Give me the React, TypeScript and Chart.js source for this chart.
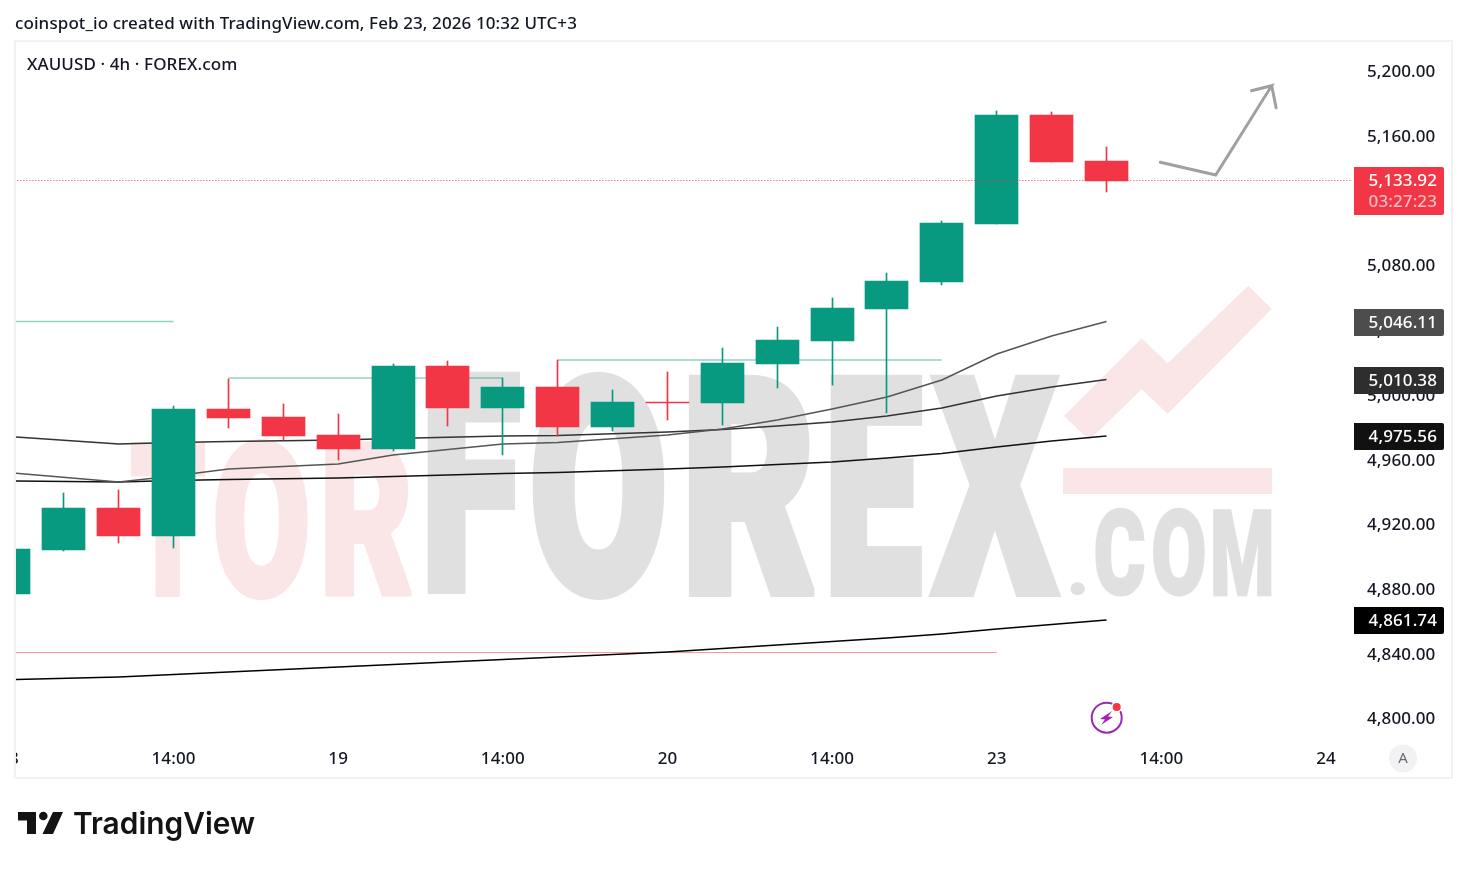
import React, { useEffect, useRef } from "react";
import { Chart, registerables } from "chart.js";

Chart.register(...registerables);

const FONT = "'Noto Sans', sans-serif";
const WEIGHT = 500;
const SPACING = "0.1px";

const titleText = "coinspot_io created with TradingView.com, Feb 23, 2026 10:32 UTC+3";
const symbolText = "XAUUSD · 4h · FOREX.com";

const candleIndex = [0, 1, 2, 3, 4, 5, 6, 7, 8, 9, 10, 11, 12, 13, 14, 15, 16, 17, 18, 19, 20];
const opens = [4876.66, 4903.86, 4929.83, 4912.52, 4991.04, 4986.09, 4974.96, 4966.31, 5017.62, 4991.65, 5004.64, 4979.91, 4995.36, 4994.74, 5018.86, 5033.08, 5052.86, 5069.55, 5105.41, 5172.8, 5144.36];
const closes = [4904.48, 4929.83, 4912.52, 4991.04, 4985.47, 4974.34, 4966.31, 5017.62, 4991.65, 5004.64, 4979.91, 4995.36, 4994.74, 5019.47, 5033.69, 5053.48, 5070.17, 5106.03, 5172.8, 5143.74, 5132.0];
const highs = [4904.48, 4939.1, 4940.96, 4992.89, 5009.58, 4994.13, 4987.94, 5018.86, 5020.71, 5010.2, 5021.33, 5002.78, 5013.91, 5028.75, 5041.73, 5059.66, 5075.12, 5107.26, 5175.27, 5174.65, 5153.01];
const lows = [4876.66, 4903.25, 4908.19, 4905.1, 4979.29, 4971.87, 4959.51, 4965.07, 4980.53, 4962.6, 4974.34, 4977.43, 4984.23, 4981.14, 5004.02, 5005.87, 4988.56, 5067.7, 5105.41, 5143.74, 5125.19];

const maIndex = [0.1, 2, 3, 4, 6, 7, 9, 10, 12, 13, 14, 15, 16, 17, 18, 19, 20];
const maA = [4951.47, 4945.9, 4949.61, 4953.94, 4957.03, 4962.6, 4969.4, 4970.32, 4974.96, 4978.67, 4984.23, 4991.04, 4998.45, 5008.96, 5025.04, 5036.17, 5045.13];
const maB = [4973.72, 4969.4, 4970.32, 4970.94, 4971.87, 4972.8, 4974.34, 4974.65, 4976.82, 4978.36, 4980.53, 4983.0, 4986.71, 4991.65, 4999.07, 5004.64, 5009.27];
const maC = [4946.52, 4945.9, 4946.83, 4947.45, 4948.38, 4949.3, 4951.16, 4951.78, 4953.94, 4955.18, 4956.72, 4958.27, 4960.74, 4963.52, 4967.54, 4971.25, 4974.34];
const maD = [4823.8, 4825.35, 4826.89, 4828.44, 4831.53, 4833.08, 4836.17, 4837.71, 4840.8, 4842.97, 4845.13, 4847.3, 4849.46, 4851.93, 4855.02, 4857.81, 4860.59];

const levelA = [{ x: 0.1, y: 5045.13 }, { x: 3, y: 5045.13 }];
const levelB = [{ x: 4, y: 5010.2 }, { x: 9, y: 5010.2 }];
const levelC = [{ x: 10, y: 5021.33 }, { x: 17, y: 5021.33 }];
const levelD = [{ x: 0.1, y: 4840.49 }, { x: 18, y: 4840.49 }];
const lastPrice = [{ x: 0.1, y: 5132.3 }, { x: 24.47, y: 5132.3 }];

const arrowX = [20.98, 21.99, 23.01, 22.62, 23.01, 23.09];
const arrowY = [5143.56, 5135.7, 5190.91, 5187.64, 5190.91, 5177.31];

const priceTicks = [4800, 4840, 4880, 4920, 4960, 5000, 5040, 5080, 5120, 5160, 5200];
const timeTickIndex = [0, 3, 6, 9, 12, 15, 18, 21, 24];
const timeTickLabels = ["18", "14:00", "19", "14:00", "20", "14:00", "23", "14:00", "24"];

const priceLabelText = "5,133.92";
const countdownText = "03:27:23";
const maLabelTexts = ["5,046.11", "5,010.38", "4,975.56", "4,861.74"];

const UP = "#089981";
const DOWN = "#F23645";

const pts = (ys: number[]) => ys.map((y, i) => ({ x: maIndex[i], y }));

const line = (data: any[], color: string, width: number, order: number, extra: any = {}) => ({
  type: "line",
  data,
  borderColor: color,
  backgroundColor: color,
  borderWidth: width,
  pointRadius: 0,
  tension: 0,
  fill: false,
  order,
  ...extra,
});

const roundBars = {
  id: "roundBars",
  afterDatasetsUpdate(chart: any) {
    chart.data.datasets.forEach((ds: any, i: number) => {
      if (ds.type !== "bar") return;
      chart.getDatasetMeta(i).data.forEach((el: any) => {
        el.x = Math.floor(el.x) + 0.5;
        el.y = Math.round(el.y);
        el.base = Math.round(el.base);
        if (Math.abs(el.y - el.base) < 1) el.base = el.y + 1;
      });
    });
  },
};

const poly = (ctx: CanvasRenderingContext2D, p: number[][], color: string) => {
  ctx.fillStyle = color;
  ctx.beginPath();
  p.forEach(([x, y], i) => (i ? ctx.lineTo(x, y) : ctx.moveTo(x, y)));
  ctx.closePath();
  ctx.fill();
};

// One heavy condensed watermark letter, fitted to its box.
const fitLetter = (
  ctx: CanvasRenderingContext2D,
  ch: string,
  x0: number,
  x1: number,
  top: number,
  bottom: number,
  extra: number,
  color: string
) => {
  ctx.save();
  ctx.font = "900 100px Roboto, sans-serif";
  ctx.textAlign = "left";
  ctx.textBaseline = "alphabetic";
  const m = ctx.measureText(ch);
  const bw = m.actualBoundingBoxLeft + m.actualBoundingBoxRight;
  const bh = m.actualBoundingBoxAscent + m.actualBoundingBoxDescent;
  const sx = (x1 - x0 - extra) / bw;
  const lw = extra / sx;
  const sy = (bottom - top) / (bh + lw);
  ctx.translate(x0 + extra / 2 + m.actualBoundingBoxLeft * sx, bottom - (lw / 2 + m.actualBoundingBoxDescent) * sy);
  ctx.scale(sx, sy);
  ctx.fillStyle = color;
  ctx.strokeStyle = color;
  ctx.lineWidth = lw;
  ctx.lineJoin = "miter";
  ctx.miterLimit = 2;
  ctx.fillText(ch, 0, 0);
  ctx.strokeText(ch, 0, 0);
  ctx.restore();
};

const watermark = {
  id: "watermark",
  beforeDraw(chart: any) {
    (chart.ctx as any).letterSpacing = SPACING;
  },
  beforeDatasetsDraw(chart: any) {
    const ctx: CanvasRenderingContext2D = chart.ctx;
    const pink = "#fae6e6";
    const gray = "#e0e0e0";
    ctx.save();
    (ctx as any).letterSpacing = "0px";
    fitLetter(ctx, "T", 130, 206, 440, 597, 4, pink);
    fitLetter(ctx, "O", 215, 308, 437, 600, 4, pink);
    fitLetter(ctx, "R", 325, 412, 440, 597, 4, pink);
    fitLetter(ctx, "F", 427, 520, 372, 597, 7, gray);
    fitLetter(ctx, "O", 532, 665, 369, 600, 7, gray);
    fitLetter(ctx, "R", 688, 815, 372, 597, 7, gray);
    fitLetter(ctx, "E", 830, 923, 372, 597, 7, gray);
    fitLetter(ctx, "X", 930, 1060, 372, 597, 6, gray);
    fitLetter(ctx, ".", 1070, 1085, 582, 595, 1, gray);
    fitLetter(ctx, "C", 1095, 1145, 507, 597, 2, gray);
    fitLetter(ctx, "O", 1153, 1205, 507, 597, 2, gray);
    fitLetter(ctx, "M", 1213, 1272, 508, 596, 1.5, gray);
    poly(ctx, [[1063, 468], [1272, 468], [1272, 494], [1063, 494]], pink);
    poly(ctx, [[1064, 416], [1141.7, 338.3], [1167.7, 363.3], [1248.3, 285.7], [1271.7, 309], [1167.7, 414], [1141.7, 389.3], [1089.3, 440]], pink);
    ctx.restore();
  },
};

const labelBox = (ctx: CanvasRenderingContext2D, y: number, h: number, color: string) => {
  ctx.fillStyle = color;
  ctx.beginPath();
  ctx.roundRect(1354, y, 90, h, [0, 2, 2, 0]);
  ctx.fill();
};

const overlay = {
  id: "overlay",
  afterDraw(chart: any) {
    const ctx: CanvasRenderingContext2D = chart.ctx;
    const yScale = chart.scales.y;
    ctx.save();
    // clip left overflow of the time axis
    ctx.fillStyle = "#ffffff";
    ctx.fillRect(0, 42, 15, 736);
    // panel frame
    ctx.strokeStyle = "#f2f2f2";
    ctx.lineWidth = 2;
    ctx.strokeRect(15, 41, 1437, 737);

    ctx.textBaseline = "middle";
    ctx.textAlign = "left";
    ctx.fillStyle = "#131722";
    ctx.font = `${WEIGHT} 17px ${FONT}`;
    ctx.fillText(titleText, 15, 24);
    ctx.fillText(symbolText, 27, 65);

    // price tags
    ctx.textAlign = "right";
    const maLast = [maA, maB, maC, maD].map((a) => a[a.length - 1]);
    const tagColors = ["#4d4d4d", "#2e2e2e", "#111111", "#000000"];
    maLast.forEach((v, i) => {
      const y = Math.round(yScale.getPixelForValue(v));
      labelBox(ctx, y - 13, 27, tagColors[i]);
      ctx.fillStyle = "#ffffff";
      ctx.fillText(maLabelTexts[i], 1437, y + 1);
    });
    const py = Math.round(yScale.getPixelForValue(lastPrice[0].y));
    labelBox(ctx, py - 14, 48, DOWN);
    ctx.fillStyle = "#ffffff";
    ctx.fillText(priceLabelText, 1437, py);
    ctx.fillStyle = "rgba(255,255,255,0.65)";
    ctx.fillText(countdownText, 1437, py + 21);

    // bolt badge
    ctx.strokeStyle = "#9c27b0";
    ctx.lineWidth = 2;
    ctx.beginPath();
    ctx.arc(1106.7, 717.7, 15, 0, Math.PI * 2);
    ctx.stroke();
    poly(ctx, [[1112, 711], [1100, 719], [1105, 719.5], [1101, 725], [1113, 717], [1108, 716.5]], "#9c27b0");
    ctx.fillStyle = "#ffffff";
    ctx.beginPath();
    ctx.arc(1116.7, 707, 5.5, 0, Math.PI * 2);
    ctx.fill();
    ctx.fillStyle = DOWN;
    ctx.beginPath();
    ctx.arc(1116.7, 707, 4, 0, Math.PI * 2);
    ctx.fill();

    // auto button
    ctx.fillStyle = "#f2f2f2";
    ctx.beginPath();
    ctx.arc(1403, 758.5, 14, 0, Math.PI * 2);
    ctx.fill();
    ctx.fillStyle = "#6a6d78";
    ctx.textAlign = "center";
    ctx.font = `15px ${FONT}`;
    ctx.fillText("A", 1403, 759);

    // logo
    poly(ctx, [[18, 812], [36, 812], [36, 834], [27, 834], [27, 820.5], [18, 820.5]], "#131313");
    ctx.fillStyle = "#131313";
    ctx.beginPath();
    ctx.arc(43.3, 816, 4.3, 0, Math.PI * 2);
    ctx.fill();
    poly(ctx, [[53, 812], [63, 812], [53, 834], [42.5, 834]], "#131313");
    ctx.textAlign = "left";
    ctx.textBaseline = "alphabetic";
    (ctx as any).letterSpacing = "0px";
    ctx.font = "600 30px Inter, sans-serif";
    ctx.fillText("TradingView", 73, 834, 182);
    ctx.restore();
  },
};

export default function App() {
  const ref = useRef<HTMLCanvasElement | null>(null);
  useEffect(() => {
    if (!ref.current) return;
    document.body.style.margin = "0";
    const colors = opens.map((o, i) => (closes[i] >= o ? UP : DOWN));
    const chart = new Chart(ref.current, {
      type: "bar",
      data: {
        datasets: [
          line(lastPrice, DOWN, 1, 0, { borderDash: [1, 2], clip: { left: 0, top: 0, bottom: 0, right: 12 } }),
          {
            type: "bar",
            data: candleIndex.map((x, i) => ({ x, y: [opens[i], closes[i]] })),
            backgroundColor: colors,
            barThickness: 43,
            grouped: false,
            order: 1,
          },
          {
            type: "bar",
            data: candleIndex.map((x, i) => ({ x, y: [lows[i], highs[i]] })),
            backgroundColor: colors,
            barThickness: 1,
            grouped: false,
            order: 2,
          },
          line(arrowX.map((x, i) => ({ x, y: arrowY[i] })), "#a0a0a0", 3, 3, { borderCapStyle: "round" }),
          line(pts(maA), "#555555", 1.5, 4),
          line(pts(maB), "#333333", 1.5, 5),
          line(pts(maC), "#111111", 1.5, 6),
          line(pts(maD), "#000000", 1.5, 7),
          line(levelA, "rgba(8,153,129,0.45)", 1.5, 8),
          line(levelB, "rgba(8,153,129,0.45)", 1.5, 8),
          line(levelC, "rgba(8,153,129,0.45)", 1.5, 8),
          line(levelD, "rgba(242,54,69,0.5)", 1, 8),
        ] as any,
      },
      options: {
        animation: false,
        responsive: false,
        layout: { autoPadding: false, padding: { left: 16, top: 42, right: 15, bottom: 90 } },
        plugins: { legend: { display: false }, tooltip: { enabled: false }, title: { display: false } },
        scales: {
          x: {
            type: "linear",
            offset: false,
            min: 0.1294,
            max: 24.291,
            grid: { display: false, drawTicks: false },
            border: { display: false },
            afterFit: (s: any) => {
              s.height = 35;
              s.paddingLeft = 0;
              s.paddingRight = 0;
            },
            afterBuildTicks: (s: any) => {
              s.ticks = timeTickIndex.map((value) => ({ value }));
            },
            ticks: {
              autoSkip: false,
              maxRotation: 0,
              padding: 5,
              color: "#131722",
              font: { size: 17, family: FONT, weight: WEIGHT },
              callback: (v: any) => timeTickLabels[timeTickIndex.indexOf(v)] ?? "",
            },
          },
          y: {
            type: "linear",
            position: "right",
            min: 4783.926,
            max: 5217.929,
            grid: { display: false, drawTicks: false },
            border: { display: false },
            afterFit: (s: any) => {
              s.width = 110;
            },
            afterBuildTicks: (s: any) => {
              s.ticks = priceTicks.map((value) => ({ value }));
            },
            ticks: {
              autoSkip: false,
              padding: 25,
              labelOffset: 1.5,
              color: "#131722",
              font: { size: 17, family: FONT, weight: WEIGHT },
              callback: (v: any) =>
                Number(v).toLocaleString("en-US", { minimumFractionDigits: 2, maximumFractionDigits: 2 }),
            },
          },
        },
      } as any,
      plugins: [roundBars, watermark, overlay],
    });
    return () => chart.destroy();
  }, []);
  return (
    <canvas
      ref={ref}
      width={1467}
      height={869}
      style={{ position: "absolute", left: 0, top: 0, display: "block" }}
    />
  );
}
